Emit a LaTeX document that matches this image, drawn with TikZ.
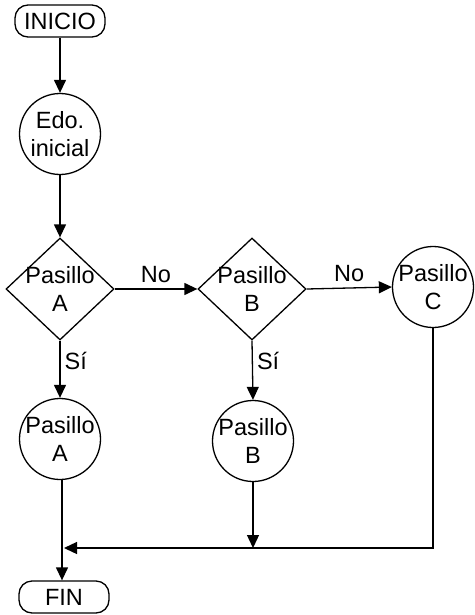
\documentclass[tikz,border=0pt]{standalone}
\usepackage{fontspec}
\setmainfont{Liberation Sans}
\usetikzlibrary{arrows.meta,shapes.geometric}
\begin{document}
\begin{tikzpicture}[x=1pt,y=-1pt,
  every node/.style={font=\fontsize{23.5}{28}\selectfont},
  line/.style={line width=1.3pt},
  arr/.style={line, -{Triangle[length=13pt,width=12pt]}},
  term/.style={draw, line width=1.3pt, rounded corners=13pt, minimum width=90pt, minimum height=32pt, inner sep=0pt},
  state/.style={draw, circle, line width=1.3pt, minimum size=81pt, inner sep=-6pt, align=center},
  decision/.style={draw, diamond, line width=1.3pt, minimum width=108pt, minimum height=102pt, inner sep=0pt},
  lbl/.style={inner sep=0pt}
]
\useasboundingbox (0,0) rectangle (474,615);
\node[term] (ini) at (60,21) {INICIO};
\node[state] (edo) at (60,134) {Edo.\\inicial};
\node[decision, label={[align=center,font=\fontsize{23.5}{28}\selectfont]center:Pasillo\\A}] (da) at (60,289) {};
\node[decision, label={[align=center,font=\fontsize{23.5}{28}\selectfont]center:Pasillo\\B}] (db) at (252,289) {};
\node[state] (pc) at (433,287) {Pasillo\\C};
\node[state] (pa) at (60,439) {Pasillo\\A};
\node[state] (pb) at (253,441) {Pasillo\\B};
\node[term] (fin) at (64,597) {FIN};
\coordinate (j) at (62,548);

\draw[arr] (ini) -- (edo);
\draw[arr] (edo) -- (da.north);
\draw[arr] (da.east) -- node[lbl, above=6pt] {No} (db.west);
\draw[arr] (db.east) -- node[lbl, above=6pt] {No} (pc.west);
\draw[arr] (da.south) -- node[lbl, pos=0.35, right=4pt] {Sí} (pa.north);
\draw[arr] (db.south) -- node[lbl, pos=0.35, right=4pt] {Sí} (pb.north);
\draw[arr] (pa.south -| j) -- (j |- fin.north);
\draw[arr] (pb.south) -- (pb.south |- j);
\draw[arr] (pc.south) -- (pc.south |- j) -- ([xshift=2pt]j);
\end{tikzpicture}
\end{document}
